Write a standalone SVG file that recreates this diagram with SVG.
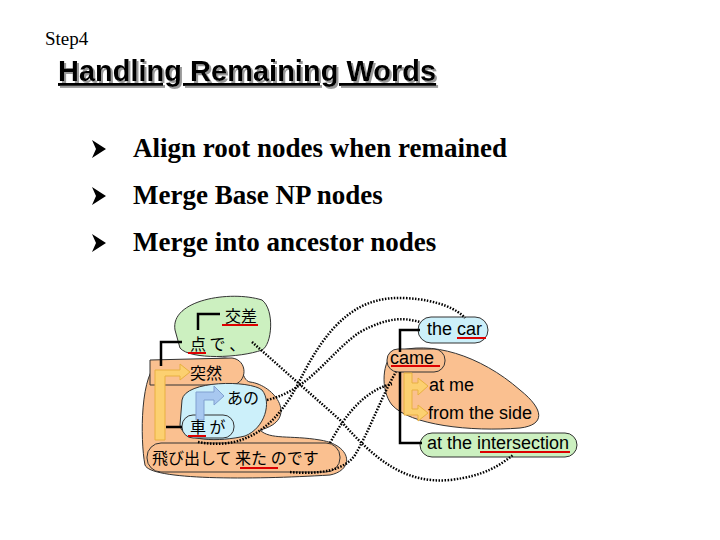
<svg xmlns="http://www.w3.org/2000/svg" width="720" height="540" viewBox="0 0 720 540">
<style>
.jp{font-family:"Noto Sans CJK JP",sans-serif;font-size:16px;fill:#000}
.en{font-family:"Liberation Sans",Arial,sans-serif;font-size:18px;fill:#000}
.bl{font-family:"Liberation Serif","Times New Roman",serif;font-size:27px;font-weight:bold;fill:#000}
.or{fill:#fac090;stroke:#333;stroke-width:1}
.gr{fill:#ccf0c0;stroke:#333;stroke-width:1}
.bu{fill:#ccf0fa;stroke:#333;stroke-width:1}
.tr{fill:none;stroke:#000;stroke-width:2.5}
.dot{fill:none;stroke:#000;stroke-width:2.5;stroke-dasharray:1.5 1.5}
.ul{stroke:#d00;stroke-width:2}
.ya{fill:#fcd070;stroke:#e8b040;stroke-width:1}
</style>
<defs>
<path id="bul" d="M0,-9 L14,0 L0,9 L4,0 Z"/>
<filter id="sh" x="-5%" y="-20%" width="110%" height="150%"><feDropShadow dx="2" dy="2" stdDeviation="0" flood-color="#999"/></filter>
</defs>
<text x="45" y="45" font-family="Liberation Serif,serif" font-size="19">Step4</text>
<text x="58" y="81" font-family="Liberation Sans,Arial,sans-serif" font-size="29" font-weight="bold" text-decoration="underline" filter="url(#sh)">Handling Remaining Words</text>
<g id="bullets">
<use href="#bul" x="92" y="149"/><text class="bl" x="133" y="157">Align root nodes when remained</text>
<use href="#bul" x="92" y="196"/><text class="bl" x="133" y="204">Merge Base NP nodes</text>
<use href="#bul" x="92" y="243"/><text class="bl" x="133" y="251">Merge into ancestor nodes</text>
</g>
<g id="n-left-big"><path class="or" d="M160,362 C140,370 140,440 145,465 C150,480 250,480 330,475 C355,470 352,445 320,440 C290,435 270,440 260,430 C300,420 275,385 250,382 C240,380 245,360 225,358 Z"/></g>
<g id="n-green-top"><path class="gr" d="M175,330 C170,300 230,290 262,300 C275,310 272,345 262,350 C240,358 190,360 180,348 Z"/></g>
<g id="n-totsuzen"><path class="or" d="M150,360 L232,358 C248,360 248,383 232,385 L150,385 Z"/></g>
<g id="n-blue"><path class="bu" d="M182,400 C185,380 250,380 262,390 C272,402 265,428 245,436 C220,442 182,442 180,425 Z"/></g>
<g id="n-kuruma"><rect class="bu" x="182" y="415" width="52" height="23" rx="11"/></g>
<g id="n-tobidashi"><rect class="or" x="147" y="443" width="193" height="29" rx="14"/></g>
<g id="n-right-big"><path class="or" d="M395,352 C430,340 480,355 520,390 C545,410 545,425 520,428 C470,432 410,425 392,405 C380,390 382,360 395,352 Z"/></g>
<g id="n-thecar"><rect class="bu" x="418" y="317" width="70" height="26" rx="13"/></g>
<g id="n-came"><rect class="or" x="387" y="349" width="58" height="23" rx="11"/></g>
<g id="n-inter"><rect class="gr" x="420" y="433" width="157" height="24" rx="12"/></g>
<g id="connectors">
<path class="tr" d="M198,330 V314 H220"/>
<path class="tr" d="M161,366 V342 H182"/>
<path class="tr" d="M166,427 H182"/>
<path class="tr" d="M400,352 V330 H420"/>
<path class="tr" d="M400,372 V443 H422"/>
<path class="ya" d="M155,440 V370 H180 V364 L190,372 L180,380 V376 H165 V440 Z"/>
<path fill="#a8c8f0" stroke="#80a0d0" d="M196,420 V392 H214 V386 L224,396 L214,405 V400 H204 V420 Z"/>
<path class="ya" d="M404,373 V415 H418 V421 L428,413 L418,405 V409 H412 V390 H418 V395 L428,386 L418,378 V383 H412 V373 Z"/>
<path class="dot" d="M252,342 L340,420 C375,460 405,484 450,480 C485,476 500,465 513,455"/>
<path class="dot" d="M198,442 C250,452 280,420 300,380 C330,320 360,296 405,298 C440,300 458,310 465,318"/>
<path class="dot" d="M267,400 C310,390 330,352 360,332 C390,316 405,318 420,322"/>
<path class="dot" d="M330,443 C345,415 365,390 392,384"/>
<path class="dot" d="M290,472 C320,475 345,470 355,455 C370,430 382,395 396,372"/>
</g>
<g id="labels">
<text class="jp" x="225" y="322">交差</text><line class="ul" x1="222" y1="325" x2="258" y2="325"/>
<text class="jp" x="190" y="350">点 で 、</text><line class="ul" x1="188" y1="353" x2="206" y2="353"/>
<text class="jp" x="190" y="379">突然</text>
<text class="jp" x="227" y="404">あの</text>
<text class="jp" x="190" y="433">車 が</text><line class="ul" x1="188" y1="436" x2="206" y2="436"/>
<text class="jp" x="152" y="464">飛び出して 来た のです</text><line class="ul" x1="240" y1="468" x2="278" y2="468"/>
<text class="en" x="427" y="335">the car</text><line class="ul" x1="457" y1="338" x2="486" y2="338"/>
<text class="en" x="390" y="364">came</text><line class="ul" x1="391" y1="366" x2="440" y2="366"/>
<text class="en" x="429" y="391">at me</text>
<text class="en" x="428" y="419">from the side</text>
<text class="en" x="427" y="449">at the intersection</text><line class="ul" x1="480" y1="452" x2="570" y2="452"/>
</g>
</svg>
